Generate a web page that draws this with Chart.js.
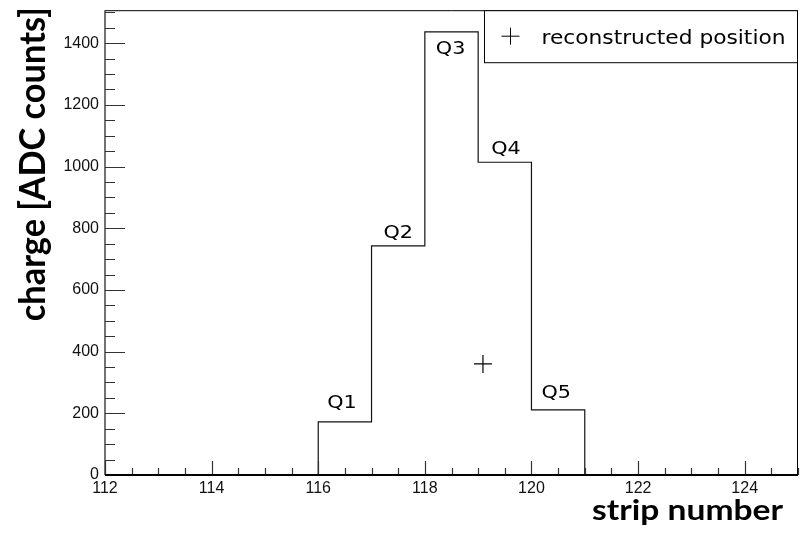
<!DOCTYPE html>
<html>
<head>
<meta charset="utf-8">
<script src="https://cdn.jsdelivr.net/npm/chart.js@4/dist/chart.umd.min.js"></script>
<style>
  html, body { margin: 0; padding: 0; background: #fff; }
  #wrap { width: 809px; height: 544px; }
</style>
</head>
<body>
<div id="wrap"><canvas id="c" width="809" height="544"></canvas></div>
<script>
// Strip charge histogram: lower bin edges and collected charge per strip
const stripEdges = [112, 113, 114, 115, 116, 117, 118, 119, 120, 121, 122, 123, 124];
const charges    = [0, 0, 0, 0, 172, 743, 1437, 1014, 211, 0, 0, 0, 0];
const lastEdge = 125;

// Named strips of the cluster
const padNames  = ['Q1', 'Q2', 'Q3', 'Q4', 'Q5'];
const padStrips = [116, 117, 118, 119, 120];

// Reconstructed cluster position
const recoStrip  = [119.09];
const recoCharge = [360];

// Axis ranges and labelled ticks
const xRange = [112, 125];
const yRange = [0, 1507];
const xTickValues = [112, 114, 116, 118, 120, 122, 124];
const yTickValues = [0, 200, 400, 600, 800, 1000, 1200, 1400];

const histPoints = stripEdges.map((x, i) => ({ x: x, y: charges[i] }));
histPoints.push({ x: lastEdge, y: charges[charges.length - 1] });

const recoPoints = recoStrip.map((x, i) => ({ x: x, y: recoCharge[i] }));

// label offsets (px) from the top-left corner of each named bin
const padLabelOffsets = [[9, -14], [12, -8], [11, 22], [13, -8], [10, -12]];

function fitText(ctx, text, x, y, targetWidth) {
  const w = ctx.measureText(text).width;
  ctx.save();
  ctx.translate(x, y);
  ctx.scale(targetWidth / w, 1);
  ctx.fillText(text, 0, 0);
  ctx.restore();
}

const rootStyle = {
  id: 'rootStyle',
  afterDatasetsDraw(chart) {
    const ctx = chart.ctx;
    const a = chart.chartArea;
    const xs = chart.scales.x, ys = chart.scales.y;
    ctx.save();

    // frame
    ctx.strokeStyle = '#000';
    ctx.lineWidth = 1;
    ctx.beginPath();
    ctx.moveTo(a.left, a.top + 0.5);
    ctx.lineTo(a.right - 0.5, a.top + 0.5);
    ctx.lineTo(a.right - 0.5, a.bottom);
    ctx.stroke();

    // left axis
    ctx.strokeStyle = '#444';
    ctx.lineWidth = 1.5;
    ctx.beginPath();
    ctx.moveTo(a.left, a.top);
    ctx.lineTo(a.left, a.bottom);
    ctx.stroke();

    // y ticks pointing inward
    ctx.lineWidth = 1.2;
    ctx.strokeStyle = '#333';
    ctx.beginPath();
    for (let v = 0; v <= yRange[1]; v += 50) {
      const py = Math.round(ys.getPixelForValue(v)) + 0.5;
      const len = (v % 200 === 0) ? 20 : 10;
      ctx.moveTo(a.left, py);
      ctx.lineTo(a.left + len, py);
    }
    ctx.stroke();

    // x ticks pointing inward
    ctx.beginPath();
    for (let v = xRange[0]; v <= xRange[1]; v += 0.5) {
      const px = Math.round(xs.getPixelForValue(v)) + 0.5;
      const len = (v % 2 === 0) ? 14 : 7;
      ctx.moveTo(px, a.bottom);
      ctx.lineTo(px, a.bottom - len);
    }
    ctx.stroke();

    // bottom axis
    ctx.strokeStyle = '#000';
    ctx.lineWidth = 2;
    ctx.beginPath();
    ctx.moveTo(a.left, a.bottom);
    ctx.lineTo(a.right, a.bottom);
    ctx.stroke();

    // bin names
    ctx.fillStyle = '#000';
    ctx.font = '18px "DejaVu Sans"';
    ctx.textBaseline = 'alphabetic';
    padNames.forEach((name, i) => {
      const idx = stripEdges.indexOf(padStrips[i]);
      const px = xs.getPixelForValue(padStrips[i]) + padLabelOffsets[i][0];
      const py = ys.getPixelForValue(charges[idx]) + padLabelOffsets[i][1];
      ctx.save();
      ctx.translate(px, py);
      ctx.scale(1.15, 1);
      ctx.fillText(name, 0, 0);
      ctx.restore();
    });

    // legend box
    const lx = a.left + 379.5, ly = a.top + 0.5, lw = a.right - 0.5 - lx, lh = 52;
    ctx.fillStyle = '#fff';
    ctx.fillRect(lx, ly, lw, lh);
    ctx.strokeStyle = '#000';
    ctx.lineWidth = 1;
    ctx.strokeRect(lx, ly, lw, lh);
    ctx.beginPath();
    ctx.moveTo(lx + 17, ly + 25.5); ctx.lineTo(lx + 35, ly + 25.5);
    ctx.moveTo(lx + 26, ly + 17); ctx.lineTo(lx + 26, ly + 34);
    ctx.stroke();
    ctx.fillStyle = '#000';
    ctx.font = '20px "DejaVu Sans"';
    fitText(ctx, 'reconstructed position', lx + 57, ly + 33, 244);

    ctx.restore();
  },
  afterDraw(chart) {
    const ctx = chart.ctx;
    const a = chart.chartArea;
    ctx.save();
    ctx.fillStyle = '#000';
    ctx.textBaseline = 'alphabetic';

    // x-axis title
    ctx.font = 'bold 28px Lato';
    fitText(ctx, 'strip number', a.right - 206, a.bottom + 45, 191);

    // y-axis title
    ctx.font = 'bold 37px Lato';
    const yt = 'charge [ADC counts]';
    const w = ctx.measureText(yt).width;
    ctx.translate(45, a.top + 311);
    ctx.rotate(-Math.PI / 2);
    ctx.scale(314 / w, 1);
    ctx.fillText(yt, 0, 0);
    ctx.restore();
  }
};

const tickFont = { family: '"Liberation Sans", Arial, sans-serif', size: 16 };

new Chart(document.getElementById('c'), {
  type: 'line',
  data: {
    datasets: [
      {
        label: 'charge',
        data: histPoints,
        stepped: true,
        borderColor: '#111',
        borderWidth: 1.2,
        pointRadius: 0,
        fill: false,
        tension: 0
      },
      {
        label: 'reconstructed position',
        data: recoPoints,
        showLine: false,
        pointStyle: 'cross',
        pointRadius: 9,
        pointBorderWidth: 1.2,
        pointBorderColor: '#000',
        borderColor: '#000'
      }
    ]
  },
  options: {
    responsive: false,
    animation: false,
    devicePixelRatio: 1,
    layout: { padding: { top: 10, right: 11, left: 0, bottom: 0 } },
    plugins: { legend: { display: false }, tooltip: { enabled: false } },
    scales: {
      x: {
        type: 'linear',
        min: xRange[0],
        max: xRange[1],
        grid: { display: false, drawTicks: false },
        border: { display: false },
        ticks: {
          includeBounds: false,
          autoSkip: false,
          maxRotation: 0,
          padding: 4,
          color: '#111',
          font: tickFont,
          callback: v => String(v)
        },
        afterBuildTicks: s => { s.ticks = xTickValues.map(v => ({ value: v })); },
        afterFit: s => { s.height = 69; s.paddingLeft = 0; s.paddingRight = 0; }
      },
      y: {
        type: 'linear',
        min: yRange[0],
        max: yRange[1],
        grid: { display: false, drawTicks: false },
        border: { display: false },
        ticks: {
          includeBounds: false,
          autoSkip: false,
          padding: 6,
          color: '#111',
          font: tickFont,
          callback: v => String(v)
        },
        afterBuildTicks: s => { s.ticks = yTickValues.map(v => ({ value: v })); },
        afterFit: s => { s.width = 105; s.paddingTop = 0; s.paddingBottom = 0; }
      }
    }
  },
  plugins: [rootStyle]
});
</script>
</body>
</html>
